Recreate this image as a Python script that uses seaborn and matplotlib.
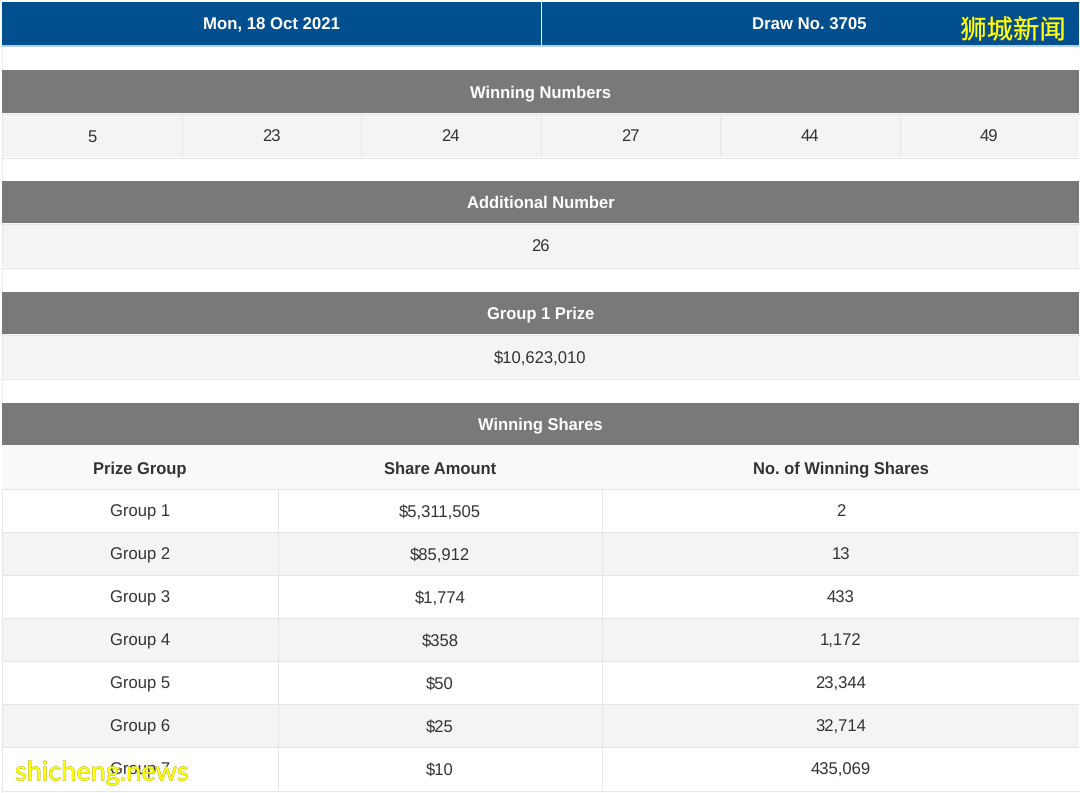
import numpy as np
import matplotlib
matplotlib.use("Agg")
import matplotlib.pyplot as plt
import matplotlib.patheffects as pe
from matplotlib.colors import ListedColormap
from matplotlib.transforms import offset_copy
import seaborn as sns

# Table contents
draw_info = ["Mon, 18 Oct 2021", "Draw No. 3705"]
winning_numbers = ["5", "23", "24", "27", "44", "49"]
additional_number = ["26"]
group1_prize = ["$10,623,010"]
share_headers = ["Prize Group", "Share Amount", "No. of Winning Shares"]
prize_groups = ["Group 1", "Group 2", "Group 3", "Group 4", "Group 5", "Group 6", "Group 7"]
share_amounts = ["$5,311,505", "$85,912", "$1,774", "$358", "$50", "$25", "$10"]
winning_shares = ["2", "13", "433", "1,172", "23,344", "32,714", "435,069"]

W, H = 1080, 793
BLUE = "#014f8f"
GREY = "#797979"
ROW_ALT = "#f4f4f4"
ROW_HEAD = "#f9f9f9"
LINE = "#e6e6e6"
TEXT = "#333333"

sns.set_style("white")
plt.rcParams["font.family"] = ["Liberation Sans", "DejaVu Sans"]
plt.rcParams["text.hinting"] = "no_hinting"

fig = plt.figure(figsize=(W / 100, H / 100), dpi=100, facecolor="white")


def block(left, top, right, bottom, labels, colors, text_color=TEXT, weight="normal",
          size=12.0, line=LINE, lw=0.5):
    """One table block as a heatmap, placed in pixel coordinates."""
    ax = fig.add_axes([left / W, 1 - bottom / H, (right - left) / W, (bottom - top) / H])
    labels = np.array(labels, dtype=object)
    if labels.shape[0] > 1:
        codes = np.arange(labels.shape[0]).reshape(labels.shape)
    else:
        codes = np.zeros(labels.shape)
    sns.heatmap(codes, annot=labels, fmt="", cbar=False, ax=ax,
                cmap=ListedColormap(colors), xticklabels=False, yticklabels=False,
                linewidths=lw, linecolor=line,
                annot_kws={"fontsize": size, "color": text_color, "fontweight": weight})
    # Helvetica-style text sits a little lower in the cell
    for t in ax.texts:
        t.set_transform(offset_copy(t.get_transform(), fig=fig, y=-1.5, units="dots"))
    return ax


# Thin frame and rules that live outside the blocks
frame = fig.add_axes([0, 0, 1, 1])
frame.set_xlim(0, W)
frame.set_ylim(H, 0)
frame.axis("off")
frame.plot([2, 2], [0, H], color="#eeeeee", lw=0.7)
frame.plot([1079.5, 1079.5], [0, H], color="#eeeeee", lw=0.7)
frame.plot([2, 1079], [45.5, 45.5], color="#a9c6de", lw=1.2)
frame.plot([2, 1079], [1.5, 1.5], color="#a9c6de", lw=0.7)
for y in (113.5, 223.5, 334.5, 445.5):
    frame.plot([2, 1079], [y, y], color="#d8d8d8", lw=1.0)
for y in (157.5, 267.5, 378.5, 790.5):
    frame.plot([2, 1079], [y, y], color=LINE, lw=0.8)

# Date / draw bar
bar = block(2, 2, 1079, 45, [draw_info], [BLUE], text_color="white", weight="bold", size=12.1,
            line=BLUE, lw=0)
bar.axvline(1, color="white", lw=0.7)

# Winning numbers
block(2, 70, 1079, 113, [["Winning Numbers"]], [GREY], text_color="white", weight="bold",
      size=11.9, lw=0)
block(2, 114, 1079, 157, [winning_numbers], [ROW_ALT])

# Additional number
block(2, 181, 1079, 223, [["Additional Number"]], [GREY], text_color="white", weight="bold",
      size=11.9, lw=0)
block(2, 224, 1079, 267, [additional_number], [ROW_ALT])

# Group 1 prize
block(2, 292, 1079, 334, [["Group 1 Prize"]], [GREY], text_color="white", weight="bold",
      size=11.9, lw=0)
block(2, 335, 1079, 378, [group1_prize], [ROW_ALT])

# Winning shares
block(2, 403, 1079, 445, [["Winning Shares"]], [GREY], text_color="white", weight="bold",
      size=11.9, lw=0)
stripes = ["#ffffff", ROW_ALT, "#ffffff", ROW_ALT, "#ffffff", ROW_ALT, "#ffffff"]
col_edges = [2, 278, 602, 1079]
columns = [prize_groups, share_amounts, winning_shares]
for i, (head, col) in enumerate(zip(share_headers, columns)):
    block(col_edges[i], 446, col_edges[i + 1], 489, [[head]], [ROW_HEAD], weight="bold",
          size=11.9, lw=0)
    block(col_edges[i], 489, col_edges[i + 1], 790, [[v] for v in col], stripes)

# Watermarks
fig.text(1013 / W, 1 - 31 / H, "狮城新闻", ha="center", va="center", fontsize=19,
         color="#ffff10", family=["Noto Sans CJK SC", "DejaVu Sans"],
         path_effects=[pe.withStroke(linewidth=0.3, foreground="#6a6a30")], zorder=20)
fig.text(102 / W, 1 - 773 / H, "shicheng.news", ha="center", va="center", fontsize=19.5,
         color="#ffff00", family=["Lato", "DejaVu Sans"],
         path_effects=[pe.withStroke(linewidth=0.4, foreground="#8a8a30")], zorder=20)

fig.savefig("out.png", dpi=100)
plt.close(fig)
